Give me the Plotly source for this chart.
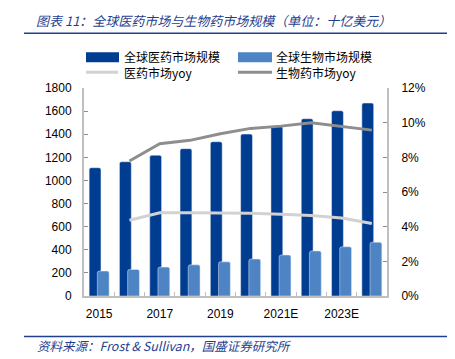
import plotly.graph_objects as go

years = ["2015", "2016", "2017", "2018", "2019", "2020", "2021E", "2022E", "2023E", "2024E"]
tick_text = ["2015", "", "2017", "", "2019", "", "2021E", "", "2023E", ""]
pharma_market = [1110, 1162, 1218, 1275, 1335, 1401, 1468, 1534, 1603, 1670]
bio_market = [216, 230, 250, 270, 296, 320, 355, 390, 426, 466]
pharma_yoy = [None, 0.0437, 0.048, 0.048, 0.048, 0.0478, 0.0472, 0.0465, 0.045, 0.0418]
bio_yoy = [None, 0.0779, 0.0879, 0.0898, 0.0936, 0.0967, 0.098, 0.100, 0.098, 0.0957]
series_names = ["全球医药市场规模", "全球生物市场规模", "医药市场yoy", "生物药市场yoy"]

DARK = "#003D91"
LIGHT = "#4F84C4"
LGRAY = "#D2D2D2"
DGRAY = "#8E8E8E"
TITLEC = "#1F3F8F"
CJK = "Noto Sans CJK SC"
NUM = "Liberation Sans, Arial"

# page body has an 8px margin; lay the figure out in page pixels
OFF = 8
PAGE_W, PAGE_H = 455, 359
W, H = PAGE_W - OFF, PAGE_H - OFF
PL, PR, PT, PB = 84, 387, 87.5, 296  # plot area in page pixels
L, R, T, B = PL - OFF, PAGE_W - PR, PT - OFF, PAGE_H - PB
PW, PH = PR - PL, PB - PT


def px(x):
    return (x - PL) / PW


def py(y):
    return (PB - y) / PH


fig = go.Figure()
fig.add_trace(go.Bar(x=years, y=pharma_market, name=series_names[0], marker_color=DARK,
                     width=0.39, offset=-0.33, showlegend=False))
fig.add_trace(go.Bar(x=years, y=bio_market, name=series_names[1], marker_color=LIGHT,
                     width=0.39, offset=-0.06, showlegend=False))
fig.add_trace(go.Scatter(x=years, y=pharma_yoy, name=series_names[2], yaxis="y2", mode="lines",
                         line=dict(color=LGRAY, width=3), showlegend=False))
fig.add_trace(go.Scatter(x=years, y=bio_yoy, name=series_names[3], yaxis="y2", mode="lines",
                         line=dict(color=DGRAY, width=3), showlegend=False))

shapes = [
    dict(type="line", xref="paper", yref="paper", x0=px(24), x1=px(447), y0=py(32.7), y1=py(32.7),
         line=dict(color=TITLEC, width=1.5)),
    dict(type="line", xref="paper", yref="paper", x0=px(24), x1=px(447), y0=py(336.7), y1=py(336.7),
         line=dict(color=TITLEC, width=1.5)),
    # legend swatches
    dict(type="rect", xref="paper", yref="paper", x0=px(86), x1=px(119), y0=py(61.7), y1=py(51.7),
         fillcolor=DARK, line=dict(width=0)),
    dict(type="rect", xref="paper", yref="paper", x0=px(238), x1=px(272), y0=py(61.7), y1=py(51.7),
         fillcolor=LIGHT, line=dict(width=0)),
    dict(type="line", xref="paper", yref="paper", x0=px(86), x1=px(118), y0=py(71.7), y1=py(71.7),
         line=dict(color=LGRAY, width=3)),
    dict(type="line", xref="paper", yref="paper", x0=px(238), x1=px(272), y0=py(71.7), y1=py(71.7),
         line=dict(color=DGRAY, width=3)),
]

ann = [
    dict(text="图表 11：全球医药市场与生物药市场规模（单位：十亿美元）", x=px(34), y=py(20),
         font=dict(family=CJK, size=13, color=TITLEC, style="italic")),
    dict(text="资料来源：Frost & Sullivan，国盛证券研究所", x=px(35), y=py(345.7),
         font=dict(family=CJK, size=12.5, color=TITLEC, style="italic")),
    dict(text=series_names[0] + "<br>" + series_names[2], x=px(122), y=py(64.3),
         font=dict(family=CJK, size=12, color="#000"), align="left"),
    dict(text=series_names[1] + "<br>" + series_names[3], x=px(274), y=py(64.3),
         font=dict(family=CJK, size=12, color="#000"), align="left"),
]
for a in ann:
    a.update(xref="paper", yref="paper", xanchor="left", yanchor="middle", showarrow=False)

fig.update_layout(
    width=W, height=H,
    margin=dict(l=L, r=R, t=T, b=B, pad=0, autoexpand=False),
    paper_bgcolor="white", plot_bgcolor="white",
    barmode="overlay", barcornerradius=2,
    font=dict(family=NUM, size=12, color="#000"),
    shapes=shapes, annotations=ann,
    xaxis=dict(type="category", tickvals=years, ticktext=tick_text, showgrid=False, tickangle=0,
               automargin=False,
               showline=True, linecolor="#BFBFBF", linewidth=1.5,
               ticks="inside", tickson="boundaries", ticklen=4, tickcolor="#BFBFBF",
               tickfont=dict(family=NUM, size=12), ticklabelstandoff=6),
    yaxis=dict(range=[0, 1800], dtick=200, showgrid=False, zeroline=False, automargin=False,
               showline=True, linecolor="#BFBFBF", linewidth=2,
               ticks="inside", ticklen=4, tickcolor="#8C8C8C",
               tickfont=dict(family=NUM, size=12), ticklabelstandoff=8),
    yaxis2=dict(range=[0, 0.12], dtick=0.02, tickformat=".0%", overlaying="y", side="right",
                automargin=False,
                showgrid=False, zeroline=False, showline=True, linecolor="#BFBFBF", linewidth=2,
                ticks="inside", ticklen=4, tickcolor="#8C8C8C",
                tickfont=dict(family=NUM, size=12), ticklabelstandoff=10),
)

fig.write_html("out.html")
